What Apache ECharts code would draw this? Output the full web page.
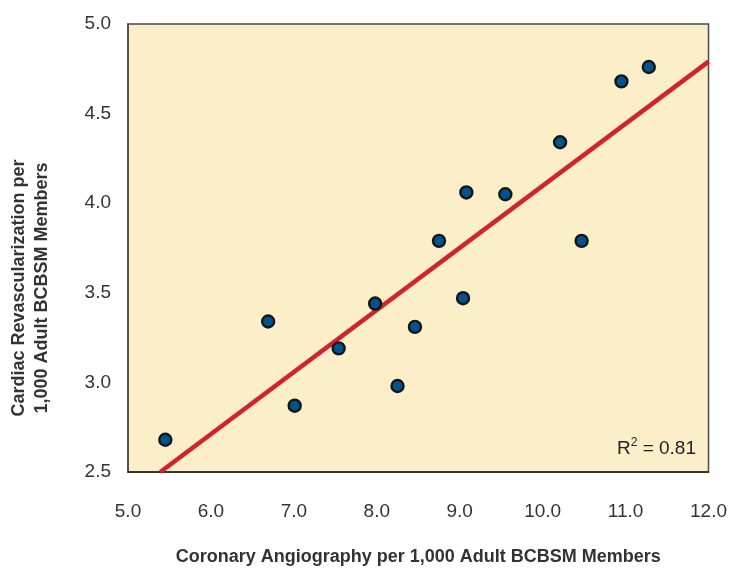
<!DOCTYPE html>
<html>
<head>
<meta charset="utf-8">
<script src="https://cdn.jsdelivr.net/npm/echarts@6/dist/echarts.min.js"></script>
<style>
  html, body { margin: 0; padding: 0; background: #ffffff; overflow: hidden; }
  #chart { width: 730px; height: 571px; }
</style>
</head>
<body>
<div id="chart"></div>
<script>
// Coronary angiography rate (x) vs. cardiac revascularization rate (y), per 1,000 adult members
const angiography = [5.45, 6.69, 7.01, 7.54, 7.98, 8.25, 8.46, 8.75, 9.04, 9.08, 9.55, 10.21, 10.47, 10.95, 11.28];
const revascularization = [2.68, 3.34, 2.87, 3.19, 3.44, 2.98, 3.31, 3.79, 3.47, 4.06, 4.05, 4.34, 3.79, 4.68, 4.76];

// Fitted trend line endpoints
const trendX = [5.39, 12.0];
const trendY = [2.5, 4.79];

const xTicks = ['5.0', '6.0', '7.0', '8.0', '9.0', '10.0', '11.0', '12.0'];
const yTicks = ['2.5', '3.0', '3.5', '4.0', '4.5', '5.0'];
const rSquared = '0.81';

const FONT = '"Liberation Sans", Arial, sans-serif';

const points = angiography.map((x, i) => [x, revascularization[i]]);
const trend = trendX.map((x, i) => [x, trendY[i]]);

const chart = echarts.init(document.getElementById('chart'), null, { renderer: 'canvas', width: 730, height: 571 });

chart.setOption({
  animation: false,
  grid: {
    left: 128, top: 24, right: 21, bottom: 95,
    show: true,
    backgroundColor: '#FCEEC8',
    borderColor: '#4a4a4a',
    borderWidth: 1.5
  },
  xAxis: {
    type: 'value',
    min: 5, max: 12, interval: 1,
    name: 'Coronary Angiography per 1,000 Adult BCBSM Members',
    nameLocation: 'middle',
    nameGap: 76,
    nameTextStyle: { fontFamily: FONT, fontWeight: 'bold', fontSize: 18, color: '#333' },
    axisLine: { show: true, lineStyle: { color: '#222', width: 1.5 } },
    axisTick: { show: false },
    splitLine: { show: false },
    axisLabel: {
      margin: 30, fontFamily: FONT, fontSize: 19, color: '#333',
      formatter: v => xTicks[Math.round(v - 5)] ?? ''
    }
  },
  yAxis: {
    type: 'value',
    min: 2.5, max: 5, interval: 0.5,
    axisLine: { show: true, lineStyle: { color: '#4a4a4a', width: 1.5 } },
    axisTick: { show: false },
    splitLine: { show: false },
    axisLabel: {
      margin: 17, fontFamily: FONT, fontSize: 19, color: '#333',
      formatter: v => yTicks[Math.round((v - 2.5) * 2)] ?? ''
    }
  },
  graphic: [
    {
      // y-axis title, two lines, rotated
      type: 'text',
      x: 31, y: 288,
      rotation: Math.PI / 2,
      style: {
        text: 'Cardiac Revascularization per\n1,000 Adult BCBSM Members',
        fontFamily: FONT, fontWeight: 'bold', fontSize: 18, fill: '#333',
        lineHeight: 23,
        align: 'center', verticalAlign: 'middle'
      }
    },
    {
      type: 'text',
      right: 34, top: 437,
      style: {
        text: '{r|R}{s|2}{r| = ' + rSquared + '}',
        rich: {
          r: { fontFamily: FONT, fontSize: 19, fill: '#222', verticalAlign: 'bottom' },
          s: { fontFamily: FONT, fontSize: 12, fill: '#222', verticalAlign: 'top', padding: [0, 0, 9, 0] }
        }
      }
    }
  ],
  series: [
    {
      type: 'line',
      data: trend,
      showSymbol: false,
      lineStyle: { color: '#D0232B', width: 4.5 },
      z: 2,
      silent: true
    },
    {
      type: 'scatter',
      data: points,
      symbol: 'circle',
      symbolSize: 12,
      itemStyle: { color: '#00548E', borderColor: '#161616', borderWidth: 2.4, opacity: 1 },
      z: 3
    }
  ]
});
</script>
</body>
</html>
